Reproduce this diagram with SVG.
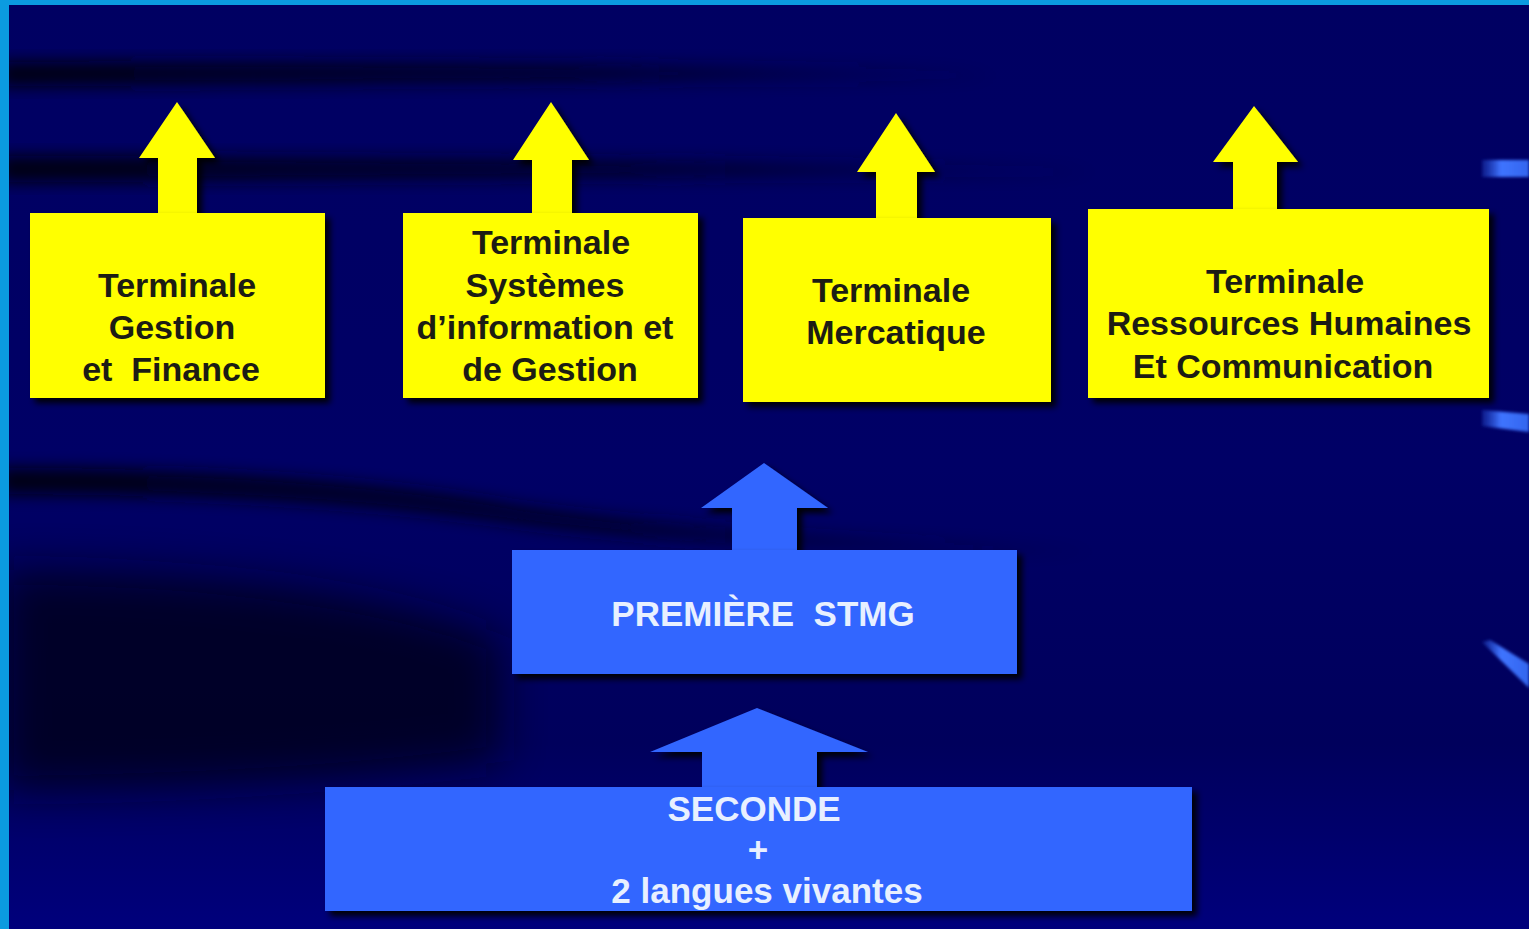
<svg xmlns="http://www.w3.org/2000/svg" width="1529" height="929" viewBox="0 0 1529 929">
  <defs>
    <linearGradient id="bg" x1="0" y1="0" x2="0" y2="1">
      <stop offset="0" stop-color="#000062"/>
      <stop offset="0.5" stop-color="#000066"/>
      <stop offset="0.8" stop-color="#00005c"/>
      <stop offset="1" stop-color="#00007c"/>
    </linearGradient>
    <linearGradient id="dash" x1="0" y1="0" x2="1" y2="0">
      <stop offset="0" stop-color="#2a55e0" stop-opacity="0.3"/>
      <stop offset="0.4" stop-color="#3f74ff"/>
      <stop offset="1" stop-color="#3366ee"/>
    </linearGradient>
    <linearGradient id="fadeR" x1="0" y1="0" x2="1" y2="0">
      <stop offset="0" stop-color="#000010" stop-opacity="0.95"/>
      <stop offset="0.6" stop-color="#000020" stop-opacity="0.7"/>
      <stop offset="1" stop-color="#000030" stop-opacity="0"/>
    </linearGradient>
    <filter id="blur8" x="-20%" y="-50%" width="140%" height="200%">
      <feGaussianBlur stdDeviation="8"/>
    </filter>
    <filter id="blur20" x="-20%" y="-50%" width="140%" height="200%">
      <feGaussianBlur stdDeviation="22"/>
    </filter>
    <filter id="shadow" x="-10%" y="-10%" width="125%" height="130%">
      <feDropShadow dx="5" dy="5" stdDeviation="3" flood-color="#000000" flood-opacity="0.95"/>
    </filter>
    <filter id="dashblur"><feGaussianBlur stdDeviation="1.5"/></filter>
  </defs>
  <style>
    .ybox { fill: #ffff00; filter: url(#shadow); }
    .yarrow { fill: #ffff00; filter: url(#shadow); }
    .bbox { fill: #3366ff; filter: url(#shadow); }
    .barrow { fill: #3366ff; filter: url(#shadow); }
    .ytxt { font-family: "Liberation Sans", Arial, sans-serif; font-weight: bold; font-size: 34px; fill: #1c1c14; text-anchor: middle; }
    .btxt { font-family: "Liberation Sans", Arial, sans-serif; font-weight: bold; font-size: 35px; fill: #e8f0ff; text-anchor: middle; }
  </style>

  <!-- background -->
  <rect x="0" y="0" width="1529" height="929" fill="url(#bg)"/>
  <g id="background-streaks">
    <path d="M0,62 C300,60 700,64 1000,70 L1000,82 C700,80 300,86 0,86 Z" fill="url(#fadeR)" filter="url(#blur8)"/>
    <path d="M0,156 C300,156 700,160 1100,166 L1100,178 C700,176 300,182 0,182 Z" fill="url(#fadeR)" filter="url(#blur8)"/>
    <path d="M0,468 C200,468 380,480 520,505 C700,530 900,540 1100,548 L1100,556 C900,552 700,548 520,525 C380,505 200,494 0,494 Z" fill="url(#fadeR)" filter="url(#blur8)"/>
    <path d="M0,570 C200,572 380,590 500,640 L500,760 C350,780 150,790 0,790 Z" fill="#000018" opacity="0.75" filter="url(#blur20)"/>
  </g>
  <g id="right-dashes" filter="url(#dashblur)">
    <path d="M1482,160 L1529,160 L1529,177 L1482,177 Z" fill="url(#dash)"/>
    <path d="M1482,410 L1529,414 L1529,432 L1482,426 Z" fill="url(#dash)"/>
    <path d="M1482,642 L1490,640 L1529,664 L1529,688 Z" fill="url(#dash)"/>
  </g>

  <!-- frame border -->
  <rect x="0" y="0" width="1529" height="5" fill="#0b9be0"/>
  <rect x="0" y="0" width="9" height="929" fill="#0b9be0"/>

  <!-- connectors (block arrows) -->
  <g id="connectors">
    <polygon class="yarrow" points="177,102 215,158 197,158 197,220 158,220 158,158 139,158"/>
    <polygon class="yarrow" points="551,102 589,160 572,160 572,220 532,220 532,160 513,160"/>
    <polygon class="yarrow" points="896,113 935,172 917,172 917,224 876,224 876,172 857,172"/>
    <polygon class="yarrow" points="1254,106 1298,162 1277,162 1277,215 1233,215 1233,162 1213,162"/>
    <polygon class="barrow" points="764,463 828,508 797,508 797,556 732,556 732,508 701,508"/>
    <polygon class="barrow" points="757,708 868,752 817,752 817,794 702,794 702,752 650,752"/>
  </g>

  <g id="node-tgf">
    <rect class="ybox" x="30" y="213" width="295" height="185"/>
    <text class="ytxt" x="177" y="297">Terminale</text>
    <text class="ytxt" x="172" y="339">Gestion</text>
    <text class="ytxt" x="171" y="381" xml:space="preserve">et  Finance</text>
  </g>
  <g id="node-tsig">
    <rect class="ybox" x="403" y="213" width="295" height="185"/>
    <text class="ytxt" x="551" y="254">Terminale</text>
    <text class="ytxt" x="545" y="297">Systèmes</text>
    <text class="ytxt" x="545" y="339">d’information et</text>
    <text class="ytxt" x="550" y="381">de Gestion</text>
  </g>
  <g id="node-tm">
    <rect class="ybox" x="743" y="218" width="308" height="184"/>
    <text class="ytxt" x="891" y="302">Terminale</text>
    <text class="ytxt" x="896" y="344">Mercatique</text>
  </g>
  <g id="node-trhc">
    <rect class="ybox" x="1088" y="209" width="401" height="189"/>
    <text class="ytxt" x="1285" y="293">Terminale</text>
    <text class="ytxt" x="1289" y="335">Ressources Humaines</text>
    <text class="ytxt" x="1283" y="378">Et Communication</text>
  </g>
  <g id="node-premiere">
    <rect class="bbox" x="512" y="550" width="505" height="124"/>
    <text class="btxt" x="763" y="626" xml:space="preserve">PREMIÈRE  STMG</text>
  </g>
  <g id="node-seconde">
    <rect class="bbox" x="325" y="787" width="867" height="124"/>
    <text class="btxt" x="754" y="821">SECONDE</text>
    <text class="btxt" x="758" y="862">+</text>
    <text class="btxt" x="767" y="903">2 langues vivantes</text>
  </g>
</svg>
